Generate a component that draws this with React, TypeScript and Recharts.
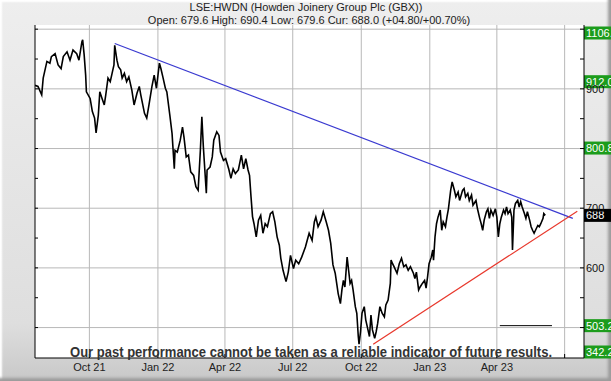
import React from 'react';
import { ComposedChart, Line, XAxis, YAxis, CartesianGrid, ReferenceLine } from 'recharts';

// day offsets from START_DATE and closing prices (GBX)
const START_DATE = '2021-07-20';
const DAY_MS = 86400000;

const DAYS = [
  0, 4, 9, 11, 16, 20, 22, 27, 31, 35, 38, 43, 47, 51, 56, 59, 63, 64, 66, 68,
  69, 74, 77, 80, 82, 85, 87, 90, 93, 95, 98, 101, 104, 106, 107, 110, 112, 115, 117, 120,
  123, 126, 130, 133, 137, 140, 142, 147, 150, 153, 157, 160, 163, 167, 169, 172, 175, 177, 181, 184,
  187, 188, 191, 195, 198, 200, 203, 206, 209, 213, 216, 219, 222, 224, 226, 230, 231, 235, 238, 240,
  244, 247, 249, 253, 256, 260, 263, 266, 269, 273, 277, 280, 283, 286, 288, 290, 292, 294, 297, 300,
  303, 306, 309, 312, 316, 319, 322, 325, 328, 330, 333, 337, 340, 343, 347, 350, 354, 358, 363, 368,
  372, 375, 377, 380, 384, 387, 391, 394, 397, 400, 403, 405, 407, 410, 412, 414, 416, 419, 421, 423,
  425, 427, 430, 432, 434, 435, 437, 439, 442, 444, 447, 449, 451, 453, 456, 458, 460, 463, 466, 469,
  471, 474, 477, 478, 480, 482, 486, 489, 492, 495, 498, 501, 504, 508, 510, 512, 515, 517, 520, 523,
  525, 527, 529, 532, 534, 535, 537, 539, 541, 544, 546, 548, 551, 553, 555, 558, 560, 563, 565, 568,
  570, 574, 576, 578, 581, 583, 586, 588, 592, 594, 597, 599, 601, 603, 606, 608, 610, 612, 615, 618,
  620, 622, 624, 626, 629, 631, 633, 635, 638, 640, 641, 643, 645, 648, 650, 652, 654, 657, 659, 661,
  664, 666, 668, 670, 673, 675, 677, 679, 682, 683, 685,
];

const PRICES = [
  906, 904, 890, 918, 946, 943, 954, 959, 940, 934, 954, 962, 948, 965, 959, 948, 979, 982, 957, 923,
  895, 884, 862, 851, 826, 856, 895, 884, 873, 890, 918, 912, 929, 940, 973, 948, 937, 932, 918, 926,
  912, 920, 898, 873, 893, 904, 890, 859, 851, 873, 904, 923, 901, 943, 934, 918, 901, 895, 856, 825,
  766, 797, 794, 814, 836, 819, 786, 789, 761, 755, 736, 730, 797, 853, 803, 725, 764, 769, 786, 814,
  828, 822, 794, 780, 783, 766, 750, 766, 758, 764, 789, 766, 783, 764, 755, 719, 686, 674, 652, 680,
  688, 658, 674, 669, 691, 694, 677, 652, 638, 616, 596, 577, 593, 621, 599, 613, 607, 618, 635, 658,
  646, 677, 685, 669, 680, 694, 677, 663, 641, 605, 591, 574, 557, 540, 563, 579, 568, 618, 596, 574,
  579, 563, 535, 524, 485, 472, 493, 524, 535, 513, 496, 485, 521, 496, 482, 493, 507, 535, 524, 518,
  538, 546, 574, 613, 607, 602, 591, 607, 616, 602, 605, 596, 602, 591, 582, 593, 563, 568, 574, 579,
  566, 585, 607, 618, 630, 613, 652, 674, 685, 697, 663, 677, 669, 685, 699, 730, 744, 730, 719, 727,
  713, 730, 733, 719, 725, 713, 722, 705, 713, 699, 683, 674, 663, 680, 694, 699, 683, 697, 688, 699,
  685, 652, 674, 685, 697, 691, 702, 691, 697, 685, 630, 697, 708, 713, 702, 711, 702, 691, 683, 694,
  680, 669, 663, 658, 666, 671, 669, 674, 683, 691, 688,
];

const TICK_DATES = ['2021-10-01', '2022-01-01', '2022-04-01', '2022-07-01', '2022-10-01', '2023-01-01', '2023-04-01', '2023-07-01'];
const MONTHS = ['Jan', 'Feb', 'Mar', 'Apr', 'May', 'Jun', 'Jul', 'Aug', 'Sep', 'Oct', 'Nov', 'Dec'];
const X_MAX = 737;

const Y_MIN = 449;
const Y_MAX = 1007;
const Y_TICKS = [500, 550, 600, 650, 700, 750, 800, 850, 900, 950, 1000];
const Y_GRID = [500, 600, 700, 800, 900, 1000];

// trend lines: [startDay, startPrice, endDay, endPrice]
const RESISTANCE = [107, 976, 722, 683];
const SUPPORT = [454, 472, 728, 695];
const TARGET_LINE = [624, 503.2, 694, 503.2];

const LEVELS = [1106.0, 912.0, 800.8, 503.2, 342.2];
const CURRENT = 688.0;

const FONT = '"Liberation Sans", Arial, sans-serif';

const toDay = (iso: string) => Math.round((Date.parse(iso) - Date.parse(START_DATE)) / DAY_MS);
const X_TICKS = TICK_DATES.map(toDay);
const data = DAYS.map((d, i) => ({ day: d, price: PRICES[i] }));
const clampY = (v: number) => Math.min(Y_MAX, Math.max(Y_MIN, v));

const fmtDay = (d: number) => {
  const dt = new Date(Date.parse(START_DATE) + d * DAY_MS);
  return `${MONTHS[dt.getUTCMonth()]} ${String(dt.getUTCFullYear()).slice(2)}`;
};

const BottomTick = ({ x, y, payload }: any) => (
  <g>
    <line x1={x} x2={x} y1={y} y2={y - 4} stroke="#000" />
    {payload.value < 700 && (
      <text x={x} y={y + 13} textAnchor="middle" fontSize={11} fill="#222" fontFamily={FONT}>
        {fmtDay(payload.value)}
      </text>
    )}
  </g>
);

const TopTick = ({ x, y }: any) => <line x1={x} x2={x} y1={y} y2={y + 4} stroke="#000" />;

const LeftTick = ({ x, y }: any) => <line x1={x} x2={x + 3} y1={y} y2={y} stroke="#000" />;

// labels that sit under a level tag are hidden, as in the original
const RightTick = ({ x, y, payload }: any) => {
  const v = payload.value;
  const covered = LEVELS.some((lv) => Math.abs(clampY(lv) - v) < 10);
  return (
    <g>
      <line x1={x} x2={x - 4} y1={y} y2={y} stroke="#000" />
      {v % 100 === 0 && !covered && (
        <text x={x + 2} y={y + 4} fontSize={11} fill="#111" fontFamily={FONT}>
          {v}
        </text>
      )}
    </g>
  );
};

const LevelTag = ({ viewBox, text, fill, pin }: any) => {
  if (!viewBox) return null;
  const x = viewBox.x + viewBox.width;
  let cy = viewBox.y;
  if (pin === 'top') cy += 8;
  if (pin === 'bottom') cy -= 6;
  return (
    <g>
      <rect x={x} y={cy - 6.5} width={34} height={13} fill={fill} />
      <text x={x + 2} y={cy + 4} fontSize={11} fill="#fff" fontFamily={FONT}>
        {text}
      </text>
    </g>
  );
};

export default function App() {
  return (
    <div
      style={{
        position: 'absolute',
        left: 0,
        top: 0,
        width: 611,
        height: 381,
        overflow: 'hidden',
        background: 'linear-gradient(180deg, #eeeeee 0%, #dedede 85%, #c8c8c8 100%)',
        boxShadow: 'inset -3px -3px 3px #9c9c9c, inset 2px 2px 2px #ffffff',
      }}
    >
      <ComposedChart width={611} height={381} data={data} margin={{ top: 25, right: 0, bottom: 0, left: 0 }}>
        <CartesianGrid
          stroke="#b8b8b8"
          fill="#ffffff"
          horizontalValues={Y_GRID}
          verticalValues={X_TICKS}
        />
        <XAxis
          dataKey="day"
          type="number"
          domain={[0, X_MAX]}
          ticks={X_TICKS}
          allowDataOverflow
          height={23}
          tickSize={0}
          tickMargin={0}
          tickLine={false}
          axisLine={{ stroke: '#000' }}
          tick={<BottomTick />}
        />
        <XAxis
          xAxisId="t"
          orientation="top"
          dataKey="day"
          type="number"
          domain={[0, X_MAX]}
          ticks={X_TICKS}
          allowDataOverflow
          height={0}
          tickSize={0}
          tickMargin={0}
          tickLine={false}
          axisLine={{ stroke: '#000' }}
          tick={<TopTick />}
        />
        <YAxis
          type="number"
          domain={[Y_MIN, Y_MAX]}
          ticks={Y_TICKS}
          allowDataOverflow
          width={35}
          tickSize={0}
          tickMargin={0}
          tickLine={false}
          axisLine={{ stroke: '#000' }}
          tick={<LeftTick />}
        />
        <YAxis
          yAxisId="r"
          orientation="right"
          type="number"
          domain={[Y_MIN, Y_MAX]}
          ticks={Y_TICKS}
          allowDataOverflow
          width={27}
          tickSize={0}
          tickMargin={0}
          tickLine={false}
          axisLine={{ stroke: '#000' }}
          tick={<RightTick />}
        />
        <Line
          dataKey="price"
          stroke="#000"
          strokeWidth={1.6}
          dot={false}
          isAnimationActive={false}
        />
        <ReferenceLine
          segment={[{ x: RESISTANCE[0], y: RESISTANCE[1] }, { x: RESISTANCE[2], y: RESISTANCE[3] }]}
          stroke="#3a3ad0"
          strokeWidth={1.2}
        />
        <ReferenceLine
          segment={[{ x: SUPPORT[0], y: SUPPORT[1] }, { x: SUPPORT[2], y: SUPPORT[3] }]}
          stroke="#e8382c"
          strokeWidth={1.2}
        />
        <ReferenceLine
          segment={[{ x: TARGET_LINE[0], y: TARGET_LINE[1] }, { x: TARGET_LINE[2], y: TARGET_LINE[3] }]}
          stroke="#000"
          strokeWidth={1}
        />
        {LEVELS.map((lv) => {
          const pin = lv > Y_MAX ? 'top' : lv < Y_MIN ? 'bottom' : undefined;
          return (
            <ReferenceLine
              key={lv}
              y={clampY(lv)}
              stroke="none"
              label={<LevelTag text={lv.toFixed(1)} fill="#1c9c1c" pin={pin} />}
            />
          );
        })}
        <ReferenceLine y={CURRENT} stroke="none" label={<LevelTag text={CURRENT.toFixed(0)} fill="#000" />} />
      </ComposedChart>
      <svg width={611} height={381} style={{ position: 'absolute', left: 0, top: 0, pointerEvents: 'none' }}>
        <text x={306} y={11} textAnchor="middle" fontSize={11} fill="#222" fontFamily={FONT}>
          LSE:HWDN (Howden Joinery Group Plc (GBX))
        </text>
        <text x={309} y={24} textAnchor="middle" fontSize={11} fill="#222" fontFamily={FONT}>
          Open: 679.6 High: 690.4 Low: 679.6 Cur: 688.0 (+04.80/+00.70%)
        </text>
        <text
          x={311}
          y={357}
          textAnchor="middle"
          fontSize={14}
          fontWeight="bold"
          fill="#333"
          fontFamily={'"Liberation Sans Narrow", "Liberation Sans", Arial, sans-serif'}
          textLength={482}
          lengthAdjust="spacingAndGlyphs"
        >
          Our past performance cannot be taken as a reliable indicator of future results.
        </text>
      </svg>
    </div>
  );
}
